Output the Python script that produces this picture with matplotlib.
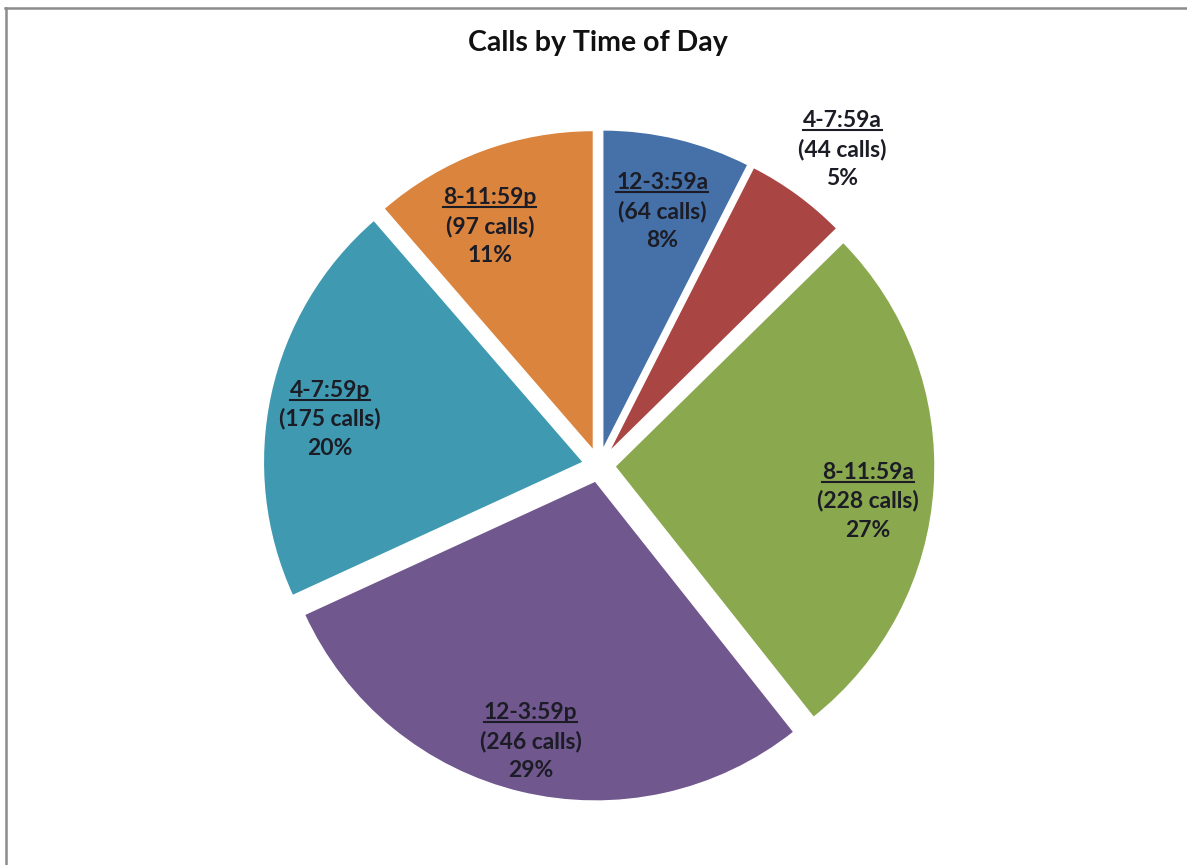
import numpy as np
import matplotlib
matplotlib.use("Agg")
import matplotlib.pyplot as plt
from matplotlib.lines import Line2D

# Calls per 4-hour block, clockwise from midnight
periods = ["12-3:59a", "4-7:59a", "8-11:59a", "12-3:59p", "4-7:59p", "8-11:59p"]
calls = [64, 44, 228, 246, 175, 97]
pct_labels = ["8%", "5%", "27%", "29%", "20%", "11%"]

colors = ["#4571A8", "#A94543", "#8AA84D", "#70578E", "#3F9AB1", "#DA843E"]

# label placement: distance from pie centre (px) and small angular nudge (deg)
label_r = [263, 400, 271, 283, 273, 264]
label_nudge = [0.4, 1.2, 3.7, 0.5, -2.1, -4.0]

W, H = 1187, 865
CX, CY, R = 599, H - 465.5, 320
GAP = 16  # pie explode distance, data units == px here
TEXT_COLOR = "#1c1c26"
LINE_STEP = 29

plt.rcParams["font.family"] = ["Lato", "DejaVu Sans"]

fig = plt.figure(figsize=(W / 100, H / 100), dpi=100)
ax = fig.add_axes([0, 0, 1, 1])

ax.pie(
    calls,
    colors=colors,
    startangle=90,
    counterclock=False,
    explode=[GAP] * len(calls),
    radius=R,
    center=(CX, CY),
    wedgeprops=dict(edgecolor="white", linewidth=1),
)
ax.set_xlim(0, W)
ax.set_ylim(0, H)
ax.set_aspect("equal")
ax.axis("off")

# bisector of each slice, measured clockwise from 12 o'clock
total = sum(calls)
cum = np.cumsum([0] + calls)
mids = (cum[:-1] + cum[1:]) / 2 / total * 360

fig.canvas.draw()
renderer = fig.canvas.get_renderer()

for i, name in enumerate(periods):
    ang = np.radians(mids[i] + label_nudge[i])
    lx = CX + label_r[i] * np.sin(ang)
    ly = CY + label_r[i] * np.cos(ang)
    lines = [name, f"({calls[i]} calls)", pct_labels[i]]
    baselines = [LINE_STEP - 8, -8, -LINE_STEP - 8]
    for j, (txt, off) in enumerate(zip(lines, baselines)):
        t = ax.annotate(txt, (lx, ly), xytext=(0, off), textcoords="offset pixels",
                        ha="center", va="baseline", fontsize=16.5,
                        fontweight="bold", color=TEXT_COLOR)
        if j == 0:
            # underline the period name
            bb = t.get_window_extent(renderer)
            base_y = ax.transData.transform((lx, ly))[1] + off - 3
            fig.add_artist(Line2D([bb.x0 / W, bb.x1 / W], [base_y / H, base_y / H],
                                  transform=fig.transFigure, color=TEXT_COLOR,
                                  linewidth=1.5))

fig.text(598 / W, 1 - 43 / H, "Calls by Time of Day", ha="center", va="center",
         fontsize=20.5, fontweight="bold", color="#111111")

# chart frame (top and left edges)
fig.add_artist(Line2D([5 / W, 1], [1 - 8 / H, 1 - 8 / H], transform=fig.transFigure,
                      color="#8c8c8c", linewidth=1.8))
fig.add_artist(Line2D([6 / W, 6 / W], [0, 1 - 8 / H], transform=fig.transFigure,
                      color="#8c8c8c", linewidth=1.8))

fig.savefig("out.png", dpi=100, facecolor="white")
